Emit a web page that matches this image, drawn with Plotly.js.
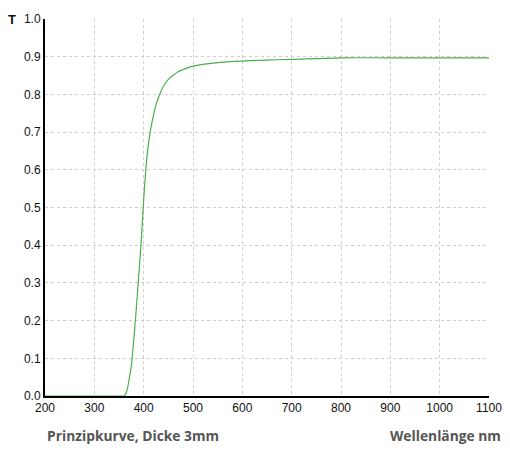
<!DOCTYPE html>
<html><head><meta charset="utf-8">
<script src="https://cdn.plot.ly/plotly-3.0.1.min.js"></script>
<style>html,body{margin:0;padding:0;background:#fff}#c{width:510px;height:450px}</style>
</head><body><div id="c"></div>
<script>
const wavelength = [200, 300, 350, 360, 365, 370, 375, 380, 385, 390, 395, 400, 405, 410, 415, 420, 425, 430, 435, 440, 450, 460, 470, 480, 490, 500, 528, 575, 650, 700, 800, 900, 1000, 1100];
const transmission = [0, 0, 0, 0, 0.01, 0.04, 0.08, 0.15, 0.23, 0.32, 0.41, 0.52, 0.61, 0.672, 0.714, 0.745, 0.772, 0.792, 0.808, 0.821, 0.840, 0.851, 0.860, 0.866, 0.871, 0.875, 0.881, 0.887, 0.891, 0.893, 0.897, 0.897, 0.897, 0.897];
const xTicks = [200, 300, 400, 500, 600, 700, 800, 900, 1000, 1100];
const yTicks = [0, 0.1, 0.2, 0.3, 0.4, 0.5, 0.6, 0.7, 0.8, 0.9, 1.0];
const yTickText = yTicks.map(v => v.toFixed(1));
const captionLeft = "Prinzipkurve, Dicke 3mm";
const captionRight = "Wellenlänge nm";
const yLabel = "T";

Plotly.newPlot('c', [{
  x: wavelength, y: transmission, type: 'scatter', mode: 'lines',
  line: {color: '#4cae4c', width: 1.2, shape: 'spline', smoothing: 1},
  hoverinfo: 'skip'
}], {
  width: 510, height: 450,
  margin: {l: 45, r: 21, t: 19, b: 54},
  paper_bgcolor: '#fff', plot_bgcolor: '#fff',
  showlegend: false,
  font: {family: 'Liberation Sans, Arial, sans-serif', size: 12, color: '#111'},
  xaxis: {range: [200, 1100], tickvals: xTicks, showgrid: true, gridcolor: '#cfcfcf', griddash: 'dot', gridwidth: 1,
    showline: true, linecolor: '#000', linewidth: 2, zeroline: false, ticks: '', ticklen: 0,
    tickfont: {family: 'Liberation Sans, Arial, sans-serif', size: 12, color: '#111'}, fixedrange: true},
  yaxis: {range: [0, 1.0], tickvals: yTicks, ticktext: yTickText, showgrid: true, gridcolor: '#cfcfcf', griddash: 'dot', gridwidth: 1,
    showline: true, linecolor: '#000', linewidth: 2, zeroline: false, ticks: '', ticklen: 0,
    tickfont: {family: 'Liberation Sans, Arial, sans-serif', size: 12, color: '#111'}, fixedrange: true},
  annotations: [
    {text: '<b>' + yLabel + '</b>', xref: 'paper', yref: 'paper', x: -0.075, y: 1.0, xanchor: 'center', yanchor: 'middle', showarrow: false, font: {size: 13, color: '#111', family: 'Liberation Sans, Arial, sans-serif'}},
    {text: captionLeft, xref: 'paper', yref: 'paper', x: 0, y: -0.105, xanchor: 'left', yanchor: 'middle', showarrow: false, font: {size: 13.8, color: '#555', family: 'Open Sans, sans-serif', weight: 700}},
    {text: captionRight, xref: 'paper', yref: 'paper', x: 1.031, y: -0.105, xanchor: 'right', yanchor: 'middle', showarrow: false, font: {size: 13.8, color: '#555', family: 'Open Sans, sans-serif', weight: 700}}
  ]
}, {displayModeBar: false, staticPlot: true});
</script></body></html>
